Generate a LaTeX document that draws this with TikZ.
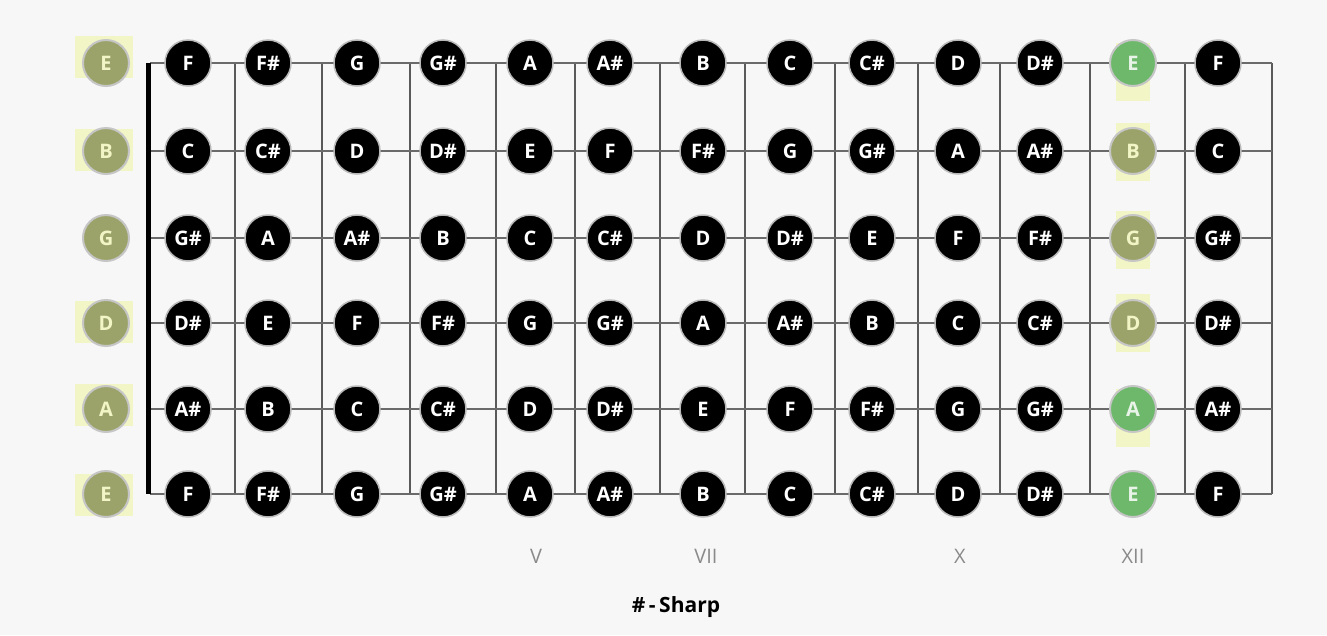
\documentclass[tikz,border=0pt]{standalone}
\usepackage{fontspec}
\setmainfont{Open Sans}
\definecolor{bgc}{HTML}{F7F7F7}
\definecolor{olivec}{HTML}{9CA36A}
\definecolor{greenc}{HTML}{6DB86B}
\definecolor{yelc}{HTML}{F2F5C6}
\definecolor{stringc}{HTML}{6A6A6A}
\definecolor{fretc}{HTML}{5A5A5A}
\definecolor{romanc}{HTML}{8A8A8A}
\tikzset{
  note/.style={circle, fill=black, draw=gray!55, line width=1.5pt, minimum size=46pt, inner sep=0pt,
    text=white, font=\fontsize{20}{22}\selectfont\bfseries},
  opennote/.style={circle, fill=olivec, draw=gray!45, line width=2pt, minimum size=46pt, inner sep=0pt,
    text=yelc, font=\fontsize{20}{22}\selectfont\bfseries},
  greennote/.style={opennote, fill=greenc, text=white!85!greenc},
  yelbox/.style={fill=yelc, draw=none, minimum width=34pt, minimum height=58pt, inner sep=0pt},
  openbox/.style={fill=yelc, draw=none, minimum width=58pt, minimum height=42pt, inner sep=0pt},
  stringline/.style={draw=stringc, line width=1.8pt},
  fretline/.style={draw=fretc, line width=1.6pt},
  nutline/.style={draw=black, line width=5pt},
  roman/.style={text=romanc, font=\fontsize{20}{22}\selectfont},
  legend/.style={text=black, font=\fontsize{21}{24}\selectfont\bfseries}
}
\begin{document}
\begin{tikzpicture}[x=1pt,y=-1pt]
\useasboundingbox[fill=bgc] (0,0) rectangle (1327,635);
% strings
\foreach \s/\y in {1/63,2/151,3/238,4/323,5/409,6/494}{
  \coordinate (s\s a) at (150,\y);
  \coordinate (s\s b) at (1272,\y);
}
\foreach \f/\x in {1/235,2/322,3/410,4/496,5/575,6/660,7/745,8/835,9/918,10/1000,11/1090,12/1185,13/1272}{
  \coordinate (f\f a) at (\x,63);
  \coordinate (f\f b) at (\x,494);
  \draw[fretline] (f\f a) -- (f\f b);
}
\foreach \s in {1,...,6}{ \draw[stringline] (s\s a) -- (s\s b); }
\draw[nutline] (148,63) coordinate (nuta) -- (148,494) coordinate (nutb);
% yellow boxes behind open notes
\foreach \s/\y in {1/57,2/150,4/322,5/405,6/495}{ \node[openbox] (ob\s) at (104,\y) {}; }
% yellow boxes behind 12th-fret notes
\foreach \s/\y in {1/72,2/152,3/240,4/323,5/418}{ \node[yelbox] (yt\s) at (1133,\y) {}; }
% open string notes
\foreach \s/\y/\n in {1/63/E,2/151/B,3/238/G,4/323/D,5/409/A,6/494/E}{
  \node[opennote] (o\s) at (106,\y) {\n};
}
% fret notes
\foreach \s/\y/\notes in {
  1/63/{F,F\#,G,G\#,A,A\#,B,C,C\#,D,D\#,E,F},
  2/151/{C,C\#,D,D\#,E,F,F\#,G,G\#,A,A\#,B,C},
  3/238/{G\#,A,A\#,B,C,C\#,D,D\#,E,F,F\#,G,G\#},
  4/323/{D\#,E,F,F\#,G,G\#,A,A\#,B,C,C\#,D,D\#},
  5/409/{A\#,B,C,C\#,D,D\#,E,F,F\#,G,G\#,A,A\#},
  6/494/{F,F\#,G,G\#,A,A\#,B,C,C\#,D,D\#,E,F}}{
  \foreach \n [count=\i] in \notes {
    \pgfmathsetmacro{\xx}{{188,268,357,443,530,610,703,790,872,958,1040,1133,1218}[\i-1]}
    \ifnum\i=12
      \ifnum\s=1 \node[greennote] (n\s-\i) at (\xx,\y) {\n};
      \else\ifnum\s=5 \node[greennote] (n\s-\i) at (\xx,\y) {\n};
      \else\ifnum\s=6 \node[greennote] (n\s-\i) at (\xx,\y) {\n};
      \else \node[opennote] (n\s-\i) at (\xx,\y) {\n};
      \fi\fi\fi
    \else
      \node[note] (n\s-\i) at (\xx,\y) {\n};
    \fi
  }
}
% fret markers
\node[roman] (r5) at (536,556) {V};
\node[roman] (r7) at (706,556) {VII};
\node[roman] (r10) at (960,556) {X};
\node[roman] (r12) at (1133,556) {XII};
\node[legend] (lg) at (676,607) {\#\,-\,Sharp};
\end{tikzpicture}
\end{document}
